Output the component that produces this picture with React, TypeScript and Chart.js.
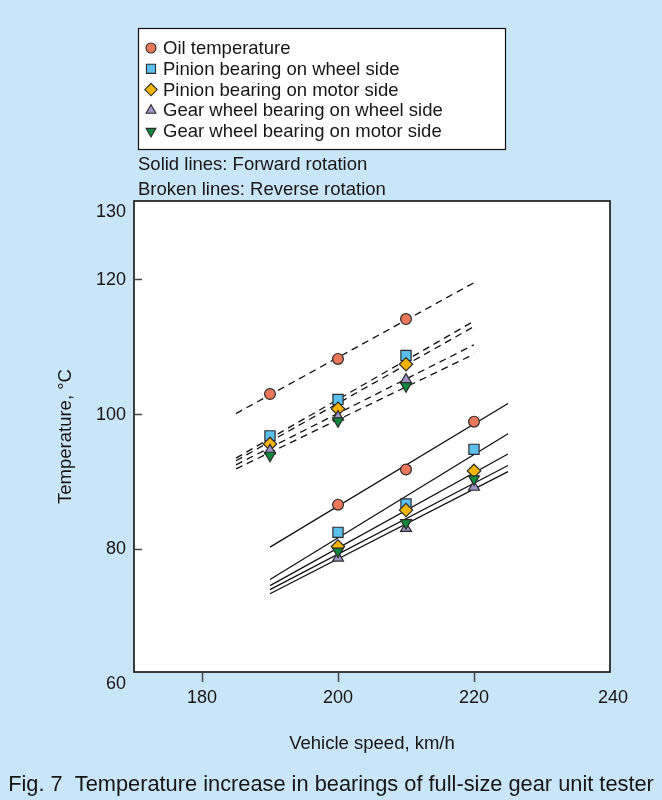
import React, { useEffect, useRef } from 'react';
import { Chart, registerables } from 'chart.js';
import { drawPoint } from 'chart.js/helpers';
Chart.register(...registerables);

// ---------- data ----------
const seriesNames = [
  'Oil temperature',
  'Pinion bearing on wheel side',
  'Pinion bearing on motor side',
  'Gear wheel bearing on wheel side',
  'Gear wheel bearing on motor side',
];
// measured points, forward rotation (solid lines)
const speedsForward = [200, 210, 220];
const oilFwd = [86.5, 91.7, 98.8];
const pinionWheelFwd = [82.4, 86.6, 94.7];
const pinionMotorFwd = [80.3, 85.7, 91.5];
const gearWheelFwd = [78.6, 83.0, 89.1];
const gearMotorFwd = [79.6, 83.8, 90.3];
// measured points, reverse rotation (broken lines)
const speedsReverse = [190, 200, 210];
const oilRev = [102.9, 108.1, 114.0];
const pinionWheelRev = [96.7, 102.1, 108.6];
const pinionMotorRev = [95.5, 100.7, 107.3];
const gearWheelRev = [94.5, 99.5, 105.0];
const gearMotorRev = [93.8, 98.9, 104.1];
// fitted lines: values at start and end speed
const fwdFitSpeeds = [190, 225];
const oilFwdFit = [80.2, 101.5];
const pinionWheelFwdFit = [75.4, 97.0];
const pinionMotorFwdFit = [74.5, 94.0];
const gearWheelFwdFit = [73.3, 91.4];
const gearMotorFwdFit = [73.9, 92.3];
const revFitSpeeds = [185, 220];
const oilRevFit = [100.0, 119.4];
const pinionWheelRevFit = [93.4, 113.7];
const pinionMotorRevFit = [93.0, 112.9];
const gearWheelRevFit = [92.4, 110.2];
const gearMotorRevFit = [91.8, 108.8];
// axes
const xTickLabels = [180, 200, 220, 240];
const xTickMarks = [180, 200, 220];
const yTickLabels = [60, 80, 100, 120, 130];
const yTickMarks = [80, 100, 120];
const xTitle = 'Vehicle speed, km/h';
const yTitle = 'Temperature, \u00B0C';
const note1 = 'Solid lines: Forward rotation';
const note2 = 'Broken lines: Reverse rotation';
const caption = 'Fig. 7  Temperature increase in bearings of full-size gear unit tester';

// ---------- styles ----------
const FONT = "'Liberation Sans', Arial, sans-serif";
const BG = '#C9E5F8';
const INK = '#161616';
const markers = [
  { pointStyle: 'circle', radius: 5.4, rotation: 0, color: '#EC785A', legendRadius: 5.0 },
  { pointStyle: 'rect', radius: 7.2, rotation: 0, color: '#5BC0EE', legendRadius: 6.4 },
  { pointStyle: 'rectRot', radius: 6.7, rotation: 0, color: '#F5B400', legendRadius: 6.2 },
  { pointStyle: 'triangle', radius: 6.3, rotation: 0, color: '#A093C7', legendRadius: 5.7 },
  { pointStyle: 'triangle', radius: 6.3, rotation: 180, color: '#0E8A3C', legendRadius: 5.7 },
];

const fwdPts = [oilFwd, pinionWheelFwd, pinionMotorFwd, gearWheelFwd, gearMotorFwd];
const revPts = [oilRev, pinionWheelRev, pinionMotorRev, gearWheelRev, gearMotorRev];
const fwdFits = [oilFwdFit, pinionWheelFwdFit, pinionMotorFwdFit, gearWheelFwdFit, gearMotorFwdFit];
const revFits = [oilRevFit, pinionWheelRevFit, pinionMotorRevFit, gearWheelRevFit, gearMotorRevFit];

function buildDatasets() {
  const ds: any[] = [];
  fwdFits.forEach((f, i) => {
    ds.push({
      label: seriesNames[i] + ' fwd fit',
      data: fwdFitSpeeds.map((s, k) => ({ x: s, y: f[k] })),
      showLine: true,
      borderColor: '#111',
      borderWidth: 1.3,
      pointRadius: 0,
      order: 20,
    });
  });
  revFits.forEach((f, i) => {
    ds.push({
      label: seriesNames[i] + ' rev fit',
      data: revFitSpeeds.map((s, k) => ({ x: s, y: f[k] })),
      showLine: true,
      borderColor: '#111',
      borderWidth: 1.3,
      borderDash: [7, 5],
      pointRadius: 0,
      order: 20,
    });
  });
  [fwdPts, revPts].forEach((group, gi) => {
    const speeds = gi === 0 ? speedsForward : speedsReverse;
    group.forEach((vals, i) => {
      const m = markers[i];
      ds.push({
        label: seriesNames[i],
        data: speeds.map((s, k) => ({ x: s, y: vals[k] })),
        showLine: false,
        pointStyle: m.pointStyle,
        pointRadius: m.radius,
        pointRotation: m.rotation,
        pointBackgroundColor: m.color,
        pointBorderColor: '#2b2b2b',
        pointBorderWidth: 1.2,
        order: 10 - i,
      });
    });
  });
  return ds;
}

function text(ctx: CanvasRenderingContext2D, s: string, x: number, y: number, size: number, align: CanvasTextAlign = 'left') {
  ctx.save();
  ctx.font = `${size}px ${FONT}`;
  ctx.fillStyle = INK;
  ctx.textAlign = align;
  ctx.textBaseline = 'middle';
  ctx.fillText(s, x, y);
  ctx.restore();
}

const decor = {
  id: 'decor',
  beforeDraw(chart: any) {
    const { ctx, chartArea: a } = chart;
    ctx.save();
    ctx.fillStyle = BG;
    ctx.fillRect(0, 0, chart.width, chart.height);
    ctx.fillStyle = '#fff';
    ctx.fillRect(a.left, a.top, a.right - a.left, a.bottom - a.top);
    ctx.restore();
  },
  afterDraw(chart: any) {
    const { ctx, chartArea: a } = chart;
    const xs = chart.scales.x;
    const ys = chart.scales.y;
    ctx.save();
    // frame
    ctx.strokeStyle = '#111';
    ctx.lineWidth = 1.6;
    ctx.strokeRect(a.left, a.top, a.right - a.left, a.bottom - a.top);
    // tick marks
    ctx.strokeStyle = '#444';
    ctx.lineWidth = 1.5;
    xTickMarks.forEach((v) => {
      const px = Math.round(xs.getPixelForValue(v)) + 0.5;
      ctx.beginPath();
      ctx.moveTo(px, a.bottom);
      ctx.lineTo(px, a.bottom + 10);
      ctx.stroke();
    });
    yTickMarks.forEach((v) => {
      const py = Math.round(ys.getPixelForValue(v)) + 0.5;
      ctx.beginPath();
      ctx.moveTo(a.left, py);
      ctx.lineTo(a.left + 8, py);
      ctx.stroke();
    });
    ctx.restore();
    // tick labels
    xTickLabels.forEach((v) => text(ctx, String(v), xs.getPixelForValue(v) + (v === 240 ? 3 : 0), a.bottom + 26, 18, 'center'));
    yTickLabels.forEach((v) => text(ctx, String(v), a.left - 8, ys.getPixelForValue(v) + 1, 18, 'right'));
    // axis titles
    text(ctx, xTitle, (a.left + a.right) / 2, 744, 18.5, 'center');
    ctx.save();
    ctx.translate(66, (a.top + a.bottom) / 2);
    ctx.rotate(-Math.PI / 2);
    text(ctx, yTitle, 0, 0, 18.5, 'center');
    ctx.restore();
    // legend box
    ctx.save();
    ctx.fillStyle = '#fff';
    ctx.fillRect(138.5, 28.5, 367, 121);
    ctx.strokeStyle = '#111';
    ctx.lineWidth = 1.2;
    ctx.strokeRect(138.5, 28.5, 367, 121);
    ctx.restore();
    seriesNames.forEach((name, i) => {
      const y = 48 + i * 20.8;
      const m = markers[i];
      ctx.save();
      ctx.fillStyle = m.color;
      ctx.strokeStyle = '#2b2b2b';
      ctx.lineWidth = 1.1;
      drawPoint(ctx, { pointStyle: m.pointStyle, radius: m.legendRadius, rotation: m.rotation, borderWidth: 1.1 } as any, 151, y);
      ctx.restore();
      text(ctx, name, 163, y + 1, 18.5, 'left');
    });
    text(ctx, note1, 138, 165, 18.5, 'left');
    text(ctx, note2, 138, 190, 18.5, 'left');
    text(ctx, caption, 331, 785, 21.8, 'center');
  },
};

export default function App() {
  const ref = useRef<HTMLCanvasElement | null>(null);
  useEffect(() => {
    document.body.style.margin = '0';
    document.body.style.background = BG;
    const chart = new Chart(ref.current as HTMLCanvasElement, {
      type: 'scatter',
      data: { datasets: buildDatasets() },
      options: {
        animation: false,
        responsive: false,
        layout: { padding: { left: 134, right: 52, top: 201, bottom: 128 } },
        scales: {
          x: { type: 'linear', min: 170, max: 240, display: false },
          y: { type: 'linear', min: 61.7, max: 131.5, display: false },
        },
        plugins: { legend: { display: false }, tooltip: { enabled: false } },
      },
      plugins: [decor],
    } as any);
    return () => chart.destroy();
  }, []);
  return (
    <div style={{ width: 662, height: 800, background: BG }}>
      <canvas ref={ref} width={662} height={800} style={{ display: 'block' }} />
    </div>
  );
}
